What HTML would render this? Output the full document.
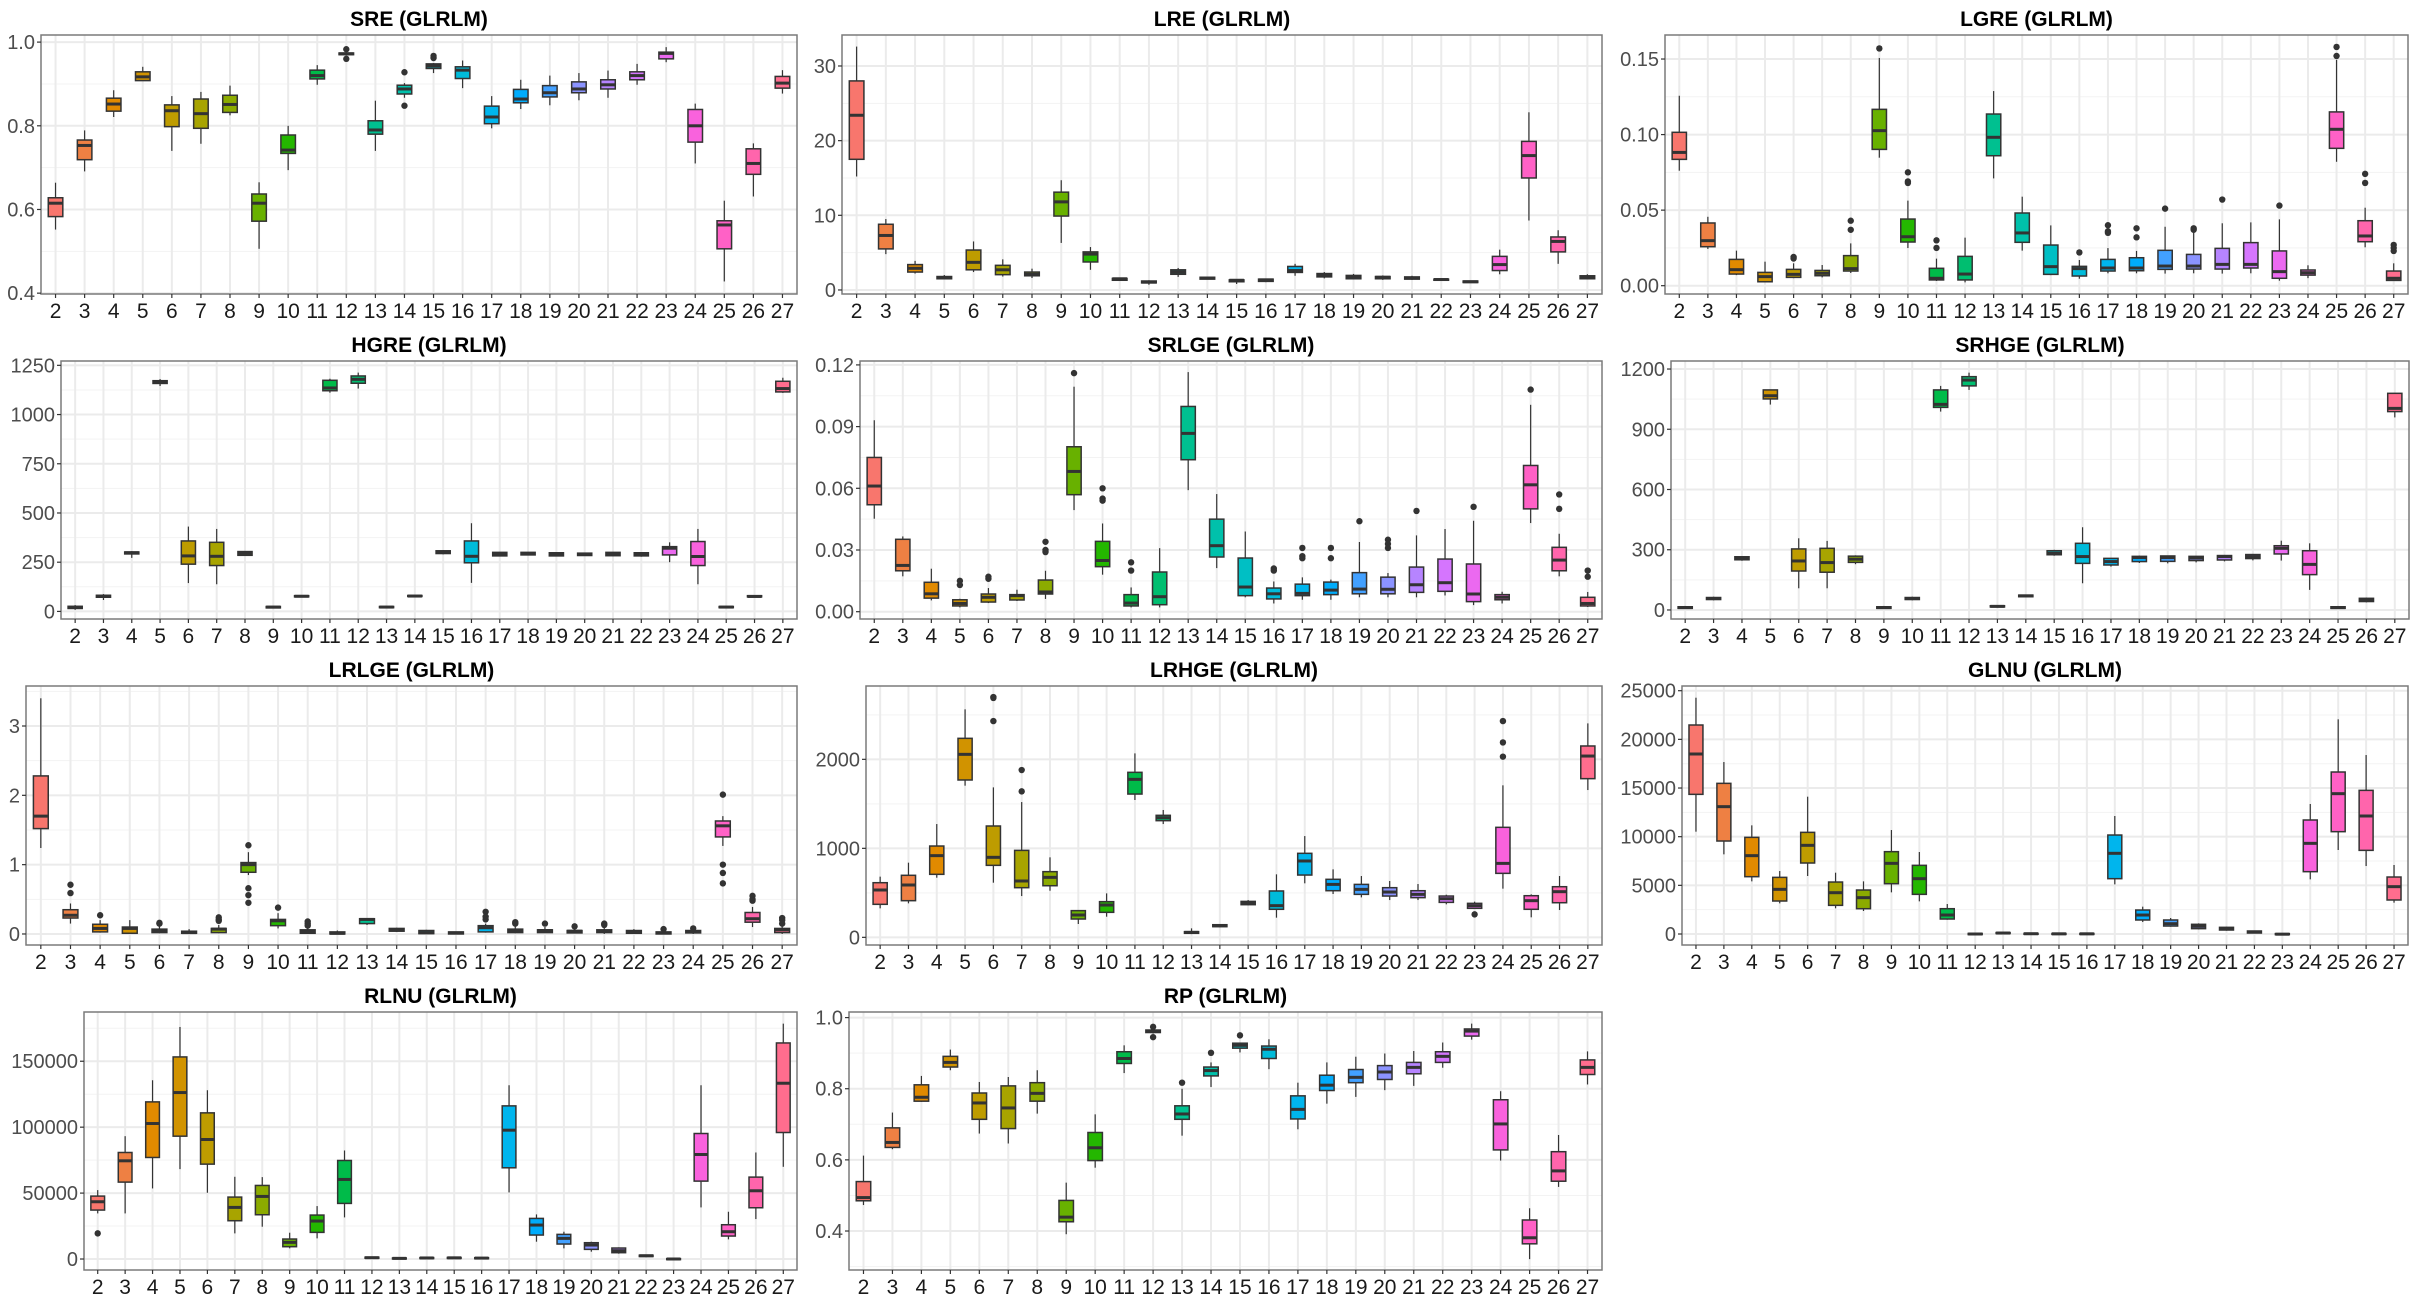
<!DOCTYPE html>
<html><head><meta charset="utf-8"><style>
html,body{margin:0;padding:0;background:#fff;}
svg{display:block;}
text{font-family:"Liberation Sans",Arial,sans-serif;}
</style></head><body>
<svg id="chart" width="2416" height="1301" xmlns="http://www.w3.org/2000/svg"></svg>
<script>
const categories = ["2","3","4","5","6","7","8","9","10","11","12","13","14","15","16","17","18","19","20","21","22","23","24","25","26","27"];

// each box: [lower whisker, q1, median, q3, upper whisker]
const sreBoxes = [[.552,.583,.615,.628,.664],[.691,.719,.753,.766,.789],[.821,.835,.852,.866,.885],[.908,.908,.917,.929,.941],[.74,.798,.836,.85,.871],[.757,.794,.829,.864,.881],[.825,.832,.851,.873,.896],[.506,.572,.615,.637,.665],[.694,.734,.742,.778,.8],[.898,.912,.92,.933,.945],[.968,.97,.972,.974,.976],[.74,.78,.79,.812,.86],[.867,.876,.888,.897,.902],[.926,.937,.943,.948,.95],[.89,.913,.933,.941,.956],[.794,.805,.821,.847,.871],[.84,.855,.864,.887,.91],[.849,.869,.879,.896,.92],[.861,.879,.888,.905,.926],[.867,.888,.898,.91,.932],[.898,.91,.92,.929,.948],[.952,.96,.973,.976,.988],[.71,.761,.8,.839,.853],[.428,.506,.563,.573,.621],[.631,.684,.71,.745,.758],[.877,.89,.902,.918,.933]];
const sreOutliers = [[12,.983],[12,.96],[14,.928],[14,.848],[15,.967],[15,.962]];

const lreBoxes = [[15.2,17.5,23.4,28.0,32.6],[4.8,5.5,7.3,8.8,9.5],[2.2,2.4,2.9,3.4,3.9],[1.4,1.5,1.65,1.8,2.0],[2.4,2.7,3.7,5.35,6.5],[1.8,2.05,2.7,3.3,4.1],[1.6,1.9,2.1,2.4,2.85],[6.3,9.9,11.8,13.1,14.7],[2.7,3.75,4.8,5.1,5.75],[1.2,1.3,1.5,1.55,1.6],[0.7,0.95,1.05,1.2,1.3],[1.75,2.1,2.4,2.7,2.95],[1.4,1.45,1.6,1.7,1.75],[0.8,1.1,1.3,1.35,1.4],[1.05,1.15,1.35,1.45,1.5],[1.9,2.35,2.6,3.15,3.5],[1.55,1.75,1.95,2.2,2.4],[1.4,1.5,1.8,1.95,2.15],[1.35,1.5,1.7,1.8,1.95],[1.35,1.45,1.6,1.75,1.9],[1.25,1.3,1.4,1.45,1.55],[0.95,1.0,1.1,1.2,1.25],[2.1,2.6,3.4,4.5,5.4],[9.3,15.0,18.0,19.9,23.8],[3.5,5.1,6.5,7.1,8.0],[1.4,1.5,1.7,1.9,2.1]];
const lreOutliers = [];

const lgreBoxes = [[.0761,.0836,.0882,.1015,.1257],[.0243,.0258,.0298,.0415,.0456],[.007,.0077,.0106,.0174,.0232],[.0022,.0026,.006,.0088,.0159],[.005,.0055,.0075,.0108,.0148],[.0055,.0066,.0082,.0101,.0137],[.0084,.0097,.0113,.0199,.028],[.0847,.0902,.1026,.1167,.1507],[.0249,.0289,.0324,.0441,.0563],[.0031,.0038,.0049,.0115,.0179],[.0022,.0038,.0077,.0194,.0318],[.071,.086,.0982,.1136,.1288],[.0232,.0287,.0349,.0481,.0589],[.007,.0075,.0126,.0269,.0399],[.0046,.0064,.0113,.0128,.017],[.0082,.0097,.0117,.0174,.0249],[.0082,.0099,.0117,.0185,.023],[.008,.0108,.013,.0234,.039],[.0082,.011,.013,.0207,.0368],[.008,.011,.0141,.0247,.0413],[.0082,.0117,.0141,.0285,.0419],[.0033,.0049,.0093,.023,.0439],[.005,.007,.0086,.0104,.0135],[.082,.0909,.1035,.115,.1494],[.0254,.0291,.0329,.043,.0516],[.0031,.0035,.0049,.0097,.0148]];
const lgreOutliers = [[6,.019],[6,.018],[8,.043],[8,.037],[9,.157],[10,.075],[10,.069],[10,.068],[11,.030],[11,.025],[16,.022],[17,.040],[17,.036],[17,.035],[18,.038],[18,.032],[19,.051],[20,.038],[20,.037],[21,.057],[23,.053],[25,.158],[25,.152],[26,.074],[26,.068],[27,.027],[27,.025],[27,.023]];

const hgreBoxes = [[8,15,20,26,32],[58,72,78,82,88],[272,292,298,302,306],[1145,1158,1165,1172,1180],[144,240,282,358,431],[138,233,280,351,419],[282,285,295,304,306],[15,18,22,25,27],[72,74,77,80,82],[1111,1121,1135,1174,1182],[1132,1159,1179,1196,1213],[17,19,22,25,27],[74,76,78,81,83],[290,294,300,308,312],[145,247,280,358,448],[280,282,290,300,302],[285,287,294,300,302],[280,282,288,298,300],[282,284,290,296,298],[280,283,292,300,302],[278,282,290,298,300],[250,287,321,329,351],[138,233,279,355,419],[17,19,22,25,27],[72,74,76,80,82],[1110,1115,1132,1169,1187]];
const hgreOutliers = [];

const srlgeBoxes = [[.0452,.052,.0611,.075,.0931],[.0172,.0199,.0225,.0352,.0366],[.0055,.0066,.0087,.0143,.0209],[.0021,.0028,.004,.0058,.0063],[.0042,.0047,.007,.0086,.0115],[.0052,.0057,.0078,.0083,.0107],[.0062,.0086,.0096,.0154,.0199],[.0494,.0569,.0682,.0802,.1094],[.018,.0219,.0249,.0342,.0429],[.0021,.0028,.0042,.0083,.0118],[.0021,.0034,.0073,.0193,.0309],[.0591,.0739,.0867,.0998,.1165],[.0212,.0266,.0321,.045,.0572],[.007,.0078,.012,.0261,.039],[.004,.0062,.0087,.0115,.0147],[.0058,.0078,.0089,.0134,.0167],[.0058,.0083,.0105,.0144,.0156],[.007,.0087,.011,.019,.0339],[.007,.0087,.0109,.0168,.0188],[.007,.0094,.0131,.0217,.0371],[.0079,.0099,.0141,.0256,.0402],[.0032,.0049,.0086,.0232,.0442],[.004,.0058,.007,.0083,.0097],[.0431,.05,.0617,.0711,.1006],[.0172,.0199,.0251,.0313,.0379],[.0023,.0028,.004,.007,.0096]];
const srlgeOutliers = [[5,.015],[5,.013],[6,.017],[6,.016],[8,.034],[8,.030],[8,.029],[9,.116],[10,.060],[10,.055],[10,.054],[11,.024],[11,.020],[16,.021],[16,.020],[17,.031],[17,.027],[17,.026],[18,.031],[18,.026],[19,.044],[20,.035],[20,.033],[20,.031],[21,.049],[23,.051],[25,.108],[26,.057],[26,.050],[27,.020],[27,.017]];

const srhgeBoxes = [[5,8,12,16,20],[48,52,57,62,66],[245,250,256,265,268],[1023,1051,1067,1096,1096],[108,194,244,304,357],[108,188,236,307,344],[228,237,253,268,272],[5,8,12,16,20],[48,52,57,62,66],[988,1009,1024,1096,1116],[1096,1116,1145,1162,1182],[12,15,18,21,24],[63,66,70,74,77],[270,275,282,295,300],[133,232,266,332,412],[216,224,241,257,257],[234,241,261,267,271],[232,242,261,269,271],[237,246,259,267,269],[242,249,266,271,274],[247,256,266,276,279],[246,279,307,320,345],[100,176,227,295,332],[5,8,12,16,20],[38,42,50,58,62],[959,988,1004,1079,1079]];
const srhgeOutliers = [];

const lrlgeBoxes = [[1.24,1.52,1.70,2.28,3.40],[.15,.23,.27,.35,.44],[.02,.03,.08,.14,.2],[0,.01,.08,.1,.2],[.01,.02,.05,.07,.12],[.005,.01,.02,.04,.07],[.01,.02,.07,.08,.13],[.85,.89,1.0,1.03,1.18],[.08,.12,.19,.21,.3],[0,.01,.03,.06,.1],[0,0,.01,.03,.05],[.13,.15,.21,.22,.23],[.03,.04,.06,.08,.09],[0,.005,.02,.05,.06],[0,0,.015,.03,.035],[.02,.03,.09,.12,.15],[.01,.02,.05,.07,.12],[.015,.02,.05,.06,.1],[.01,.015,.04,.05,.1],[0,.02,.04,.06,.1],[0,.01,.03,.05,.07],[0,0,.015,.03,.06],[0,.015,.03,.05,.08],[1.27,1.40,1.56,1.63,1.70],[.1,.17,.22,.31,.39],[0,.02,.06,.08,.14]];
const lrlgeOutliers = [[3,.71],[3,.59],[4,.27],[6,.16],[6,.15],[8,.24],[8,.21],[8,.19],[9,1.28],[9,.66],[9,.56],[9,.45],[10,.38],[11,.18],[11,.15],[11,.12],[17,.32],[17,.25],[17,.21],[18,.17],[18,.15],[19,.15],[20,.11],[21,.15],[21,.13],[23,.07],[24,.08],[25,2.01],[25,1.0],[25,.88],[25,.73],[26,.55],[26,.5],[26,.48],[27,.23],[27,.2],[27,.15]];

const lrhgeBoxes = [[326,371,532,614,682],[382,412,588,697,839],[670,708,918,1026,1273],[1704,1768,2056,2236,2562],[614,809,899,1251,1685],[464,558,633,977,1520],[524,580,674,738,899],[150,206,251,300,307],[232,281,363,401,494],[1543,1610,1775,1854,2067],[1273,1311,1344,1371,1431],[37,45,56,64,101],[112,120,131,142,150],[360,367,389,404,419],[221,315,356,521,708],[607,700,858,944,1138],[487,524,595,652,764],[449,483,539,595,689],[419,464,509,558,633],[419,446,483,524,599],[371,393,434,464,479],[326,326,356,382,401],[547,719,831,1236,1708],[225,315,412,468,483],[307,389,513,569,689],[1655,1783,2037,2150,2404]];
const lrhgeOutliers = [[6,2700],[6,2690],[6,2430],[7,1880],[7,1640],[23,258],[24,2430],[24,2190],[24,2030]];

const glnuBoxes = [[10515,14350,18495,21475,24280],[8185,9555,13085,15480,17670],[5410,5890,8050,9930,11165],[3150,3390,4590,5820,6470],[5960,7295,9110,10445,14110],[2640,2945,4245,5340,6300],[2365,2600,3735,4520,5410],[4280,5170,7260,8460,10685],[3355,4075,5685,7055,8425],[1470,1540,1950,2600,3080],[-100,-60,0,60,100],[40,60,100,150,180],[-40,-20,30,70,90],[-50,-30,20,60,80],[-50,-30,20,60,80],[5100,5685,8290,10170,12125],[1230,1440,1950,2465,2810],[750,820,1060,1440,1645],[480,550,790,995,1095],[340,410,550,685,750],[60,100,205,310,360],[-100,-60,-20,40,60],[5615,6405,9315,11715,13360],[8630,10515,14420,16645,22060],[6985,8595,12125,14760,18390],[3220,3495,4865,5855,7090]];
const glnuOutliers = [];

const rlnuBoxes = [[34590,37120,43430,47720,52270],[34590,58330,74490,80800,93170],[53530,77010,102770,119180,135590],[68180,93170,126250,153270,176000],[50250,71960,90650,110850,128020],[19440,29040,39140,46970,62370],[24490,33580,47470,55800,62120],[8080,9340,12630,15150,19950],[15660,20200,28790,33330,40150],[31560,42170,60350,74740,82320],[300,600,1000,1400,1700],[100,300,500,800,1000],[300,500,800,1100,1300],[400,600,900,1200,1400],[300,500,700,1000,1200],[50500,69190,97720,116150,131800],[13130,18180,25750,30800,33830],[8080,11360,15650,18680,20700],[5550,7320,10600,12370,13130],[4040,4800,6310,8330,8840],[1600,1900,2500,2900,3200],[-600,-300,0,300,500],[39140,59080,79280,95190,131800],[14900,17420,20700,26000,35850],[30300,38880,51760,62120,80800],[69940,95950,133320,163870,178520]];
const rlnuOutliers = [[2,19440]];

const rpBoxes = [[.473,.485,.494,.539,.612],[.630,.635,.649,.69,.733],[.763,.765,.776,.811,.836],[.852,.861,.874,.891,.91],[.674,.714,.760,.788,.819],[.646,.688,.746,.808,.833],[.73,.765,.787,.817,.852],[.391,.426,.439,.486,.536],[.578,.598,.634,.677,.728],[.844,.871,.885,.904,.922],[.955,.958,.961,.965,.968],[.668,.714,.729,.752,.8],[.805,.836,.851,.861,.874],[.902,.914,.922,.928,.93],[.855,.885,.911,.92,.939],[.686,.715,.742,.78,.817],[.758,.795,.81,.838,.874],[.777,.817,.832,.854,.89],[.796,.826,.847,.865,.899],[.808,.842,.86,.874,.906],[.859,.874,.891,.904,.93],[.938,.948,.962,.968,.983],[.598,.628,.701,.769,.793],[.321,.364,.381,.431,.464],[.524,.54,.569,.623,.67],[.812,.84,.86,.881,.905]];
const rpOutliers = [[12,.974],[12,.945],[13,.817],[14,.901],[15,.95]];

// tick values per panel
const sreTicks = [0.4,0.6,0.8,1.0];
const lreTicks = [0,10,20,30];
const lgreTicks = [0,0.05,0.10,0.15];
const hgreTicks = [0,250,500,750,1000,1250];
const srlgeTicks = [0,0.03,0.06,0.09,0.12];
const srhgeTicks = [0,300,600,900,1200];
const lrlgeTicks = [0,1,2,3];
const lrhgeTicks = [0,1000,2000];
const glnuTicks = [0,5000,10000,15000,20000,25000];
const rlnuTicks = [0,50000,100000,150000];
const rpTicks = [0.4,0.6,0.8,1.0];

const panels = [
 {id:'sre',title:'SRE (GLRLM)',boxes:sreBoxes,out:sreOutliers,ticks:sreTicks,dec:1,x0:41,x1:797,y0:35,y1:294,d0:0.398,d1:1.017},
 {id:'lre',title:'LRE (GLRLM)',boxes:lreBoxes,out:lreOutliers,ticks:lreTicks,dec:0,x0:842,x1:1602,y0:35,y1:294,d0:-0.54,d1:34.15},
 {id:'lgre',title:'LGRE (GLRLM)',boxes:lgreBoxes,out:lgreOutliers,ticks:lgreTicks,dec:2,x0:1665,x1:2408,y0:35,y1:294,d0:-0.0055,d1:0.1659},
 {id:'hgre',title:'HGRE (GLRLM)',boxes:hgreBoxes,out:hgreOutliers,ticks:hgreTicks,dec:0,x0:61,x1:797,y0:361,y1:619,d0:-38.5,d1:1272},
 {id:'srlge',title:'SRLGE (GLRLM)',boxes:srlgeBoxes,out:srlgeOutliers,ticks:srlgeTicks,dec:2,x0:860,x1:1602,y0:361,y1:619,d0:-0.00355,d1:0.1219},
 {id:'srhge',title:'SRHGE (GLRLM)',boxes:srhgeBoxes,out:srhgeOutliers,ticks:srhgeTicks,dec:0,x0:1671,x1:2409,y0:361,y1:619,d0:-45,d1:1240},
 {id:'lrlge',title:'LRLGE (GLRLM)',boxes:lrlgeBoxes,out:lrlgeOutliers,ticks:lrlgeTicks,dec:0,x0:26,x1:797,y0:686,y1:945,d0:-0.159,d1:3.577},
 {id:'lrhge',title:'LRHGE (GLRLM)',boxes:lrhgeBoxes,out:lrhgeOutliers,ticks:lrhgeTicks,dec:0,x0:866,x1:1602,y0:686,y1:945,d0:-86,d1:2824},
 {id:'glnu',title:'GLNU (GLRLM)',boxes:glnuBoxes,out:glnuOutliers,ticks:glnuTicks,dec:0,x0:1682,x1:2408,y0:686,y1:945,d0:-1130,d1:25483},
 {id:'rlnu',title:'RLNU (GLRLM)',boxes:rlnuBoxes,out:rlnuOutliers,ticks:rlnuTicks,dec:0,x0:84,x1:797,y0:1012,y1:1270,d0:-8333,d1:187350},
 {id:'rp',title:'RP (GLRLM)',boxes:rpBoxes,out:rpOutliers,ticks:rpTicks,dec:1,x0:849,x1:1602,y0:1012,y1:1270,d0:0.2904,d1:1.0157}
];

function hcl(h){
  const L=65,C=100,hr=h*Math.PI/180;
  const u=C*Math.cos(hr),v=C*Math.sin(hr);
  const Y=Math.pow((L+16)/116,3);
  const un=0.1978398,vn=0.4683363;
  const up=u/(13*L)+un,vp=v/(13*L)+vn;
  const X=Y*9*up/(4*vp),Z=Y*(12-3*up-20*vp)/(4*vp);
  let r=3.2404542*X-1.5371385*Y-0.4985314*Z;
  let g=-0.9692660*X+1.8760108*Y+0.0415560*Z;
  let b=0.0556434*X-0.2040259*Y+1.0572252*Z;
  const gam=c=>{c=c<=0.0031308?12.92*c:1.055*Math.pow(c,1/2.4)-0.055;return Math.round(Math.max(0,Math.min(1,c))*255);};
  return 'rgb('+gam(r)+','+gam(g)+','+gam(b)+')';
}
const colors=categories.map((c,i)=>hcl(15+i*360/26));

const NS='http://www.w3.org/2000/svg';
const svg=document.getElementById('chart');
function mk(tag,attrs,parent){const e=document.createElementNS(NS,tag);for(const k in attrs)e.setAttribute(k,attrs[k]);(parent||svg).appendChild(e);return e;}

panels.forEach(p=>{
  const g=mk('g',{});
  
  
  const yS=v=>p.y1-(v-p.d0)/(p.d1-p.d0)*(p.y1-p.y0);
  const band=(p.x1-p.x0)/categories.length;
  const xS=i=>p.x0+band*(i+0.5);
  // background
  mk('rect',{x:p.x0,y:p.y0,width:p.x1-p.x0,height:p.y1-p.y0,fill:'#fff'},g);
  // minor grid
  const step=p.ticks[1]-p.ticks[0];
  for(let k=-1;k<p.ticks.length;k++){
    const v=p.ticks[0]+step*(k+0.5);
    if(v>p.d0&&v<p.d1) mk('line',{x1:p.x0,x2:p.x1,y1:yS(v),y2:yS(v),stroke:'#f3f3f3','stroke-width':1},g);
  }
  // major grid
  p.ticks.forEach(v=>{mk('line',{x1:p.x0,x2:p.x1,y1:yS(v),y2:yS(v),stroke:'#ebebeb','stroke-width':2},g);});
  categories.forEach((c,i)=>{mk('line',{x1:xS(i),x2:xS(i),y1:p.y0,y2:p.y1,stroke:'#ebebeb','stroke-width':2},g);});
  // boxes
  p.boxes.forEach((b,i)=>{
    const bg=mk('g',{},g);
    
    
    const x=xS(i),w=band*0.5;
    mk('line',{x1:x,x2:x,y1:yS(b[4]),y2:yS(b[3]),stroke:'#333','stroke-width':1.2},bg);
    mk('line',{x1:x,x2:x,y1:yS(b[1]),y2:yS(b[0]),stroke:'#333','stroke-width':1.2},bg);
    const top=yS(b[3]),bot=yS(b[1]);
    mk('rect',{x:x-w/2,y:top,width:w,height:Math.max(bot-top,1),fill:colors[i],stroke:'#333','stroke-width':1.5},bg);
    mk('line',{x1:x-w/2,x2:x+w/2,y1:yS(b[2]),y2:yS(b[2]),stroke:'#333','stroke-width':3},bg);
  });
  p.out.forEach(o=>{
    const i=categories.indexOf(String(o[0]));
    const d=mk('circle',{cx:xS(i),cy:yS(o[1]),r:3.2,fill:'#333'},g);
    
    
  });
  // border
  mk('rect',{x:p.x0,y:p.y0,width:p.x1-p.x0,height:p.y1-p.y0,fill:'none',stroke:'#7a7a7a','stroke-width':1.5},g);
  // y ticks
  p.ticks.forEach(v=>{
    const y=yS(v);
    mk('line',{x1:p.x0-4,x2:p.x0,y1:y,y2:y,stroke:'#333','stroke-width':1.2},g);
    const t=mk('text',{x:p.x0-6,y:y+7,'text-anchor':'end','font-size':20,fill:'#4d4d4d'},g);
    t.textContent=v.toFixed(p.dec);
    
    
  });
  // x ticks
  categories.forEach((c,i)=>{
    const x=xS(i);
    mk('line',{x1:x,x2:x,y1:p.y1,y2:p.y1+4,stroke:'#333','stroke-width':1.2},g);
    const t=mk('text',{x:x,y:p.y1+24,'text-anchor':'middle','font-size':21,fill:'#1a1a1a'},g);
    t.textContent=c;
    
    
  });
  const tt=mk('text',{x:(p.x0+p.x1)/2,y:p.y0-9,'text-anchor':'middle','font-size':21,'font-weight':'bold',fill:'#000'},g);
  tt.textContent=p.title;
  
  
});
</script>
</body></html>
